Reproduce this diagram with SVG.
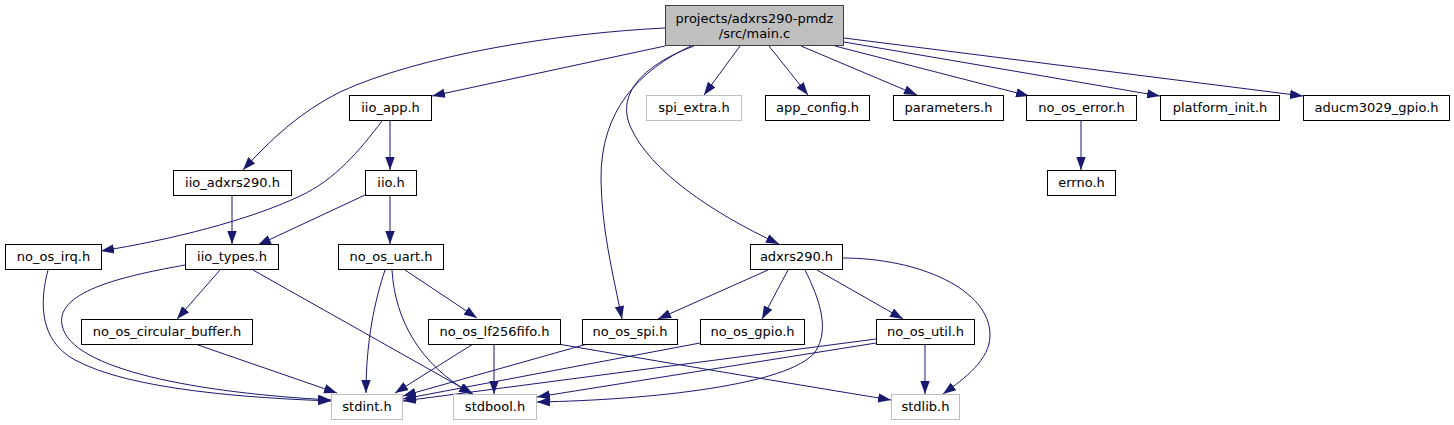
<svg xmlns="http://www.w3.org/2000/svg" width="1454" height="425" viewBox="0 0 1454 425">
<style>
.n rect{fill:#fff;stroke:#000;stroke-width:1}
.g rect{fill:#fff;stroke:#bfbfbf;stroke-width:1}
.m rect{fill:#bfbfbf;stroke:#404040;stroke-width:1}
text{font-family:"DejaVu Sans","Liberation Sans",sans-serif;font-size:13px;fill:#000;text-anchor:middle}
#edges path{fill:none;stroke:#191970;stroke-width:1;marker-end:url(#ah)}
</style>
<defs>
<marker id="ah" viewBox="0 0 13 9.4" refX="13" refY="4.7" markerWidth="13" markerHeight="9.4" markerUnits="userSpaceOnUse" orient="auto">
<path d="M0,0 L13,4.7 L0,9.4 z" fill="#191970"/>
</marker>
</defs>
<rect width="1454" height="425" fill="#fff"/>
<g id="edges">
<path d="M665,28 C560,33 420,55 340,92 C300,112 270,140 243,170"/>
<path d="M665,46 L432,96"/>
<path d="M691,46 C640,70 600,110 601,180 C602,230 612,270 622,319"/>
<path d="M694,46 C640,66 616,96 631,128 C650,170 710,212 779,244"/>
<path d="M740,46 L704,95"/>
<path d="M769,46 L808,95"/>
<path d="M801,46 L917,95"/>
<path d="M835,46 L1029,96"/>
<path d="M844,42 L1160,96"/>
<path d="M844,38 L1303,96"/>
<path d="M1081,120 L1081,170"/>
<path d="M390,121 L390,170"/>
<path d="M382,121 C360,150 335,180 300,196 C250,220 170,240 101,251"/>
<path d="M232,195 L232,244"/>
<path d="M365,195 L258,245"/>
<path d="M390,195 L390,244"/>
<path d="M48,270 C40,300 38,340 75,360 C130,390 250,398 331,401"/>
<path d="M185,265 C130,275 55,290 62,325 C70,370 200,393 331,400"/>
<path d="M220,270 L177,319"/>
<path d="M253,270 L473,394"/>
<path d="M198,345 L337,393"/>
<path d="M385,270 C375,300 366,340 366,393"/>
<path d="M392,270 C395,320 420,365 472,394"/>
<path d="M405,270 L477,318"/>
<path d="M473,344 L395,393"/>
<path d="M494,344 L494,394"/>
<path d="M558,344 C650,360 800,385 891,400"/>
<path d="M587,344 L403,396"/>
<path d="M700,343 L403,399"/>
<path d="M876,339 L403,401"/>
<path d="M876,343 L537,397"/>
<path d="M805,270 C820,300 830,330 815,352 C790,385 650,400 537,402"/>
<path d="M925,345 L925,394"/>
<path d="M842,258 C920,258 990,290 990,335 C990,360 965,378 943,394"/>
<path d="M768,270 L658,319"/>
<path d="M788,270 L762,319"/>
<path d="M817,270 L903,319"/>
</g>
<g id="main" class="m"><rect x="665.5" y="5.5" width="178" height="40"/><text x="754.5" y="22.5">projects/adxrs290-pmdz</text><text x="754.5" y="37.5">/src/main.c</text></g>
<g id="iio_app" class="n"><rect x="349.5" y="95.5" width="82" height="25"/><text x="390.5" y="112">iio_app.h</text></g>
<g id="spi_extra" class="g"><rect x="646.5" y="95.5" width="95" height="25"/><text x="694" y="112">spi_extra.h</text></g>
<g id="app_config" class="n"><rect x="765.5" y="95.5" width="104" height="25"/><text x="817.5" y="112">app_config.h</text></g>
<g id="parameters" class="n"><rect x="893.5" y="95.5" width="110" height="25"/><text x="948.5" y="112">parameters.h</text></g>
<g id="no_os_error" class="n"><rect x="1026.5" y="95.5" width="110" height="25"/><text x="1081.5" y="112">no_os_error.h</text></g>
<g id="platform_init" class="n"><rect x="1160.5" y="95.5" width="119" height="25"/><text x="1220" y="112">platform_init.h</text></g>
<g id="aducm3029_gpio" class="n"><rect x="1303.5" y="95.5" width="146" height="25"/><text x="1376.5" y="112">aducm3029_gpio.h</text></g>
<g id="iio_adxrs290" class="n"><rect x="173.5" y="170.5" width="118" height="25"/><text x="232.5" y="187">iio_adxrs290.h</text></g>
<g id="iio" class="n"><rect x="365.5" y="170.5" width="51" height="25"/><text x="391" y="187">iio.h</text></g>
<g id="errno" class="n"><rect x="1047.5" y="170.5" width="68" height="25"/><text x="1081.5" y="187">errno.h</text></g>
<g id="no_os_irq" class="n"><rect x="5.5" y="244.5" width="96" height="25"/><text x="53.5" y="261">no_os_irq.h</text></g>
<g id="iio_types" class="n"><rect x="185.5" y="244.5" width="93" height="25"/><text x="232" y="261">iio_types.h</text></g>
<g id="no_os_uart" class="n"><rect x="338.5" y="244.5" width="105" height="25"/><text x="391" y="261">no_os_uart.h</text></g>
<g id="adxrs290" class="n"><rect x="750.5" y="244.5" width="92" height="25"/><text x="796.5" y="261">adxrs290.h</text></g>
<g id="no_os_circular_buffer" class="n"><rect x="81.5" y="319.5" width="171" height="25"/><text x="167" y="336">no_os_circular_buffer.h</text></g>
<g id="no_os_lf256fifo" class="n"><rect x="428.5" y="319.5" width="132" height="25"/><text x="494.5" y="336">no_os_lf256fifo.h</text></g>
<g id="no_os_spi" class="n"><rect x="582.5" y="319.5" width="95" height="25"/><text x="630" y="336">no_os_spi.h</text></g>
<g id="no_os_gpio" class="n"><rect x="700.5" y="319.5" width="104" height="25"/><text x="752.5" y="336">no_os_gpio.h</text></g>
<g id="no_os_util" class="n"><rect x="876.5" y="319.5" width="98" height="25"/><text x="925.5" y="336">no_os_util.h</text></g>
<g id="stdint" class="g"><rect x="331.5" y="394.5" width="71" height="25"/><text x="367" y="411">stdint.h</text></g>
<g id="stdbool" class="g"><rect x="453.5" y="394.5" width="83" height="25"/><text x="495" y="411">stdbool.h</text></g>
<g id="stdlib" class="g"><rect x="891.5" y="394.5" width="68" height="25"/><text x="925.5" y="411">stdlib.h</text></g>
</svg>
